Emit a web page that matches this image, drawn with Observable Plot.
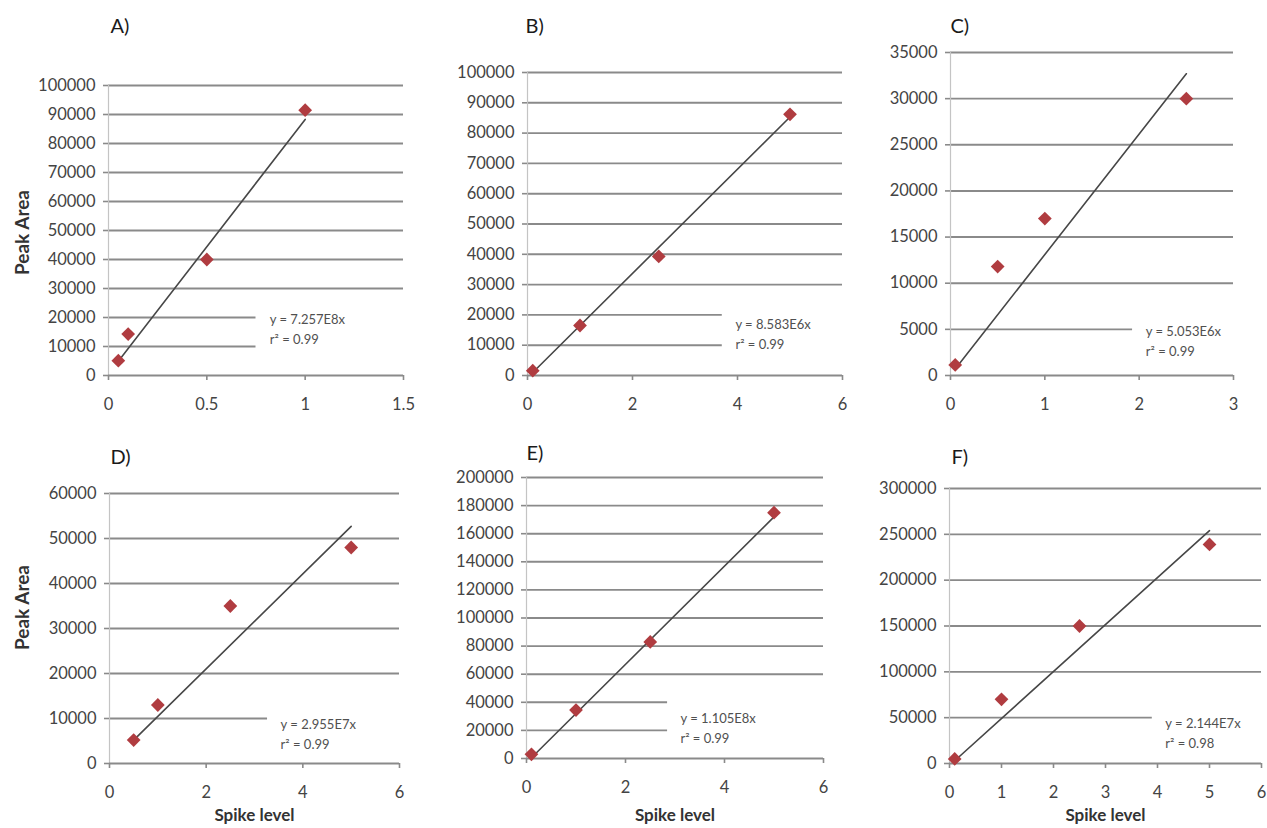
<!DOCTYPE html>
<html>
<head>
<meta charset="utf-8">
<script src="https://cdn.jsdelivr.net/npm/d3@7"></script>
<script src="https://cdn.jsdelivr.net/npm/@observablehq/plot@0.6"></script>
<style>
  html, body { margin: 0; padding: 0; background: #ffffff; overflow: hidden; }
  #wrap { position: relative; width: 1267px; height: 828px; }
  #wrap svg { position: absolute; left: 0; top: 0; max-width: none; }
</style>
</head>
<body>
<div id="wrap"></div>
<script>
// ---------- data ----------
const titles = ["A)", "B)", "C)", "D)", "E)", "F)"];
const yAxisTitle = "Peak Area";
const xAxisTitle = "Spike level";

// spike levels (x) and peak areas (y) per panel
const spikeA = [0.05, 0.1, 0.5, 1];
const areaA  = [5100, 14300, 40000, 91500];
const spikeB = [0.1, 1, 2.5, 5];
const areaB  = [1600, 16500, 39300, 86200];
const spikeC = [0.05, 0.5, 1, 2.5];
const areaC  = [1150, 11800, 17000, 30000];
const spikeD = [0.5, 1, 2.5, 5];
const areaD  = [5200, 13000, 35000, 48000];
const spikeE = [0.1, 1, 2.5, 5];
const areaE  = [3000, 34500, 83000, 175000];
const spikeF = [0.1, 1, 2.5, 5];
const areaF  = [5000, 70000, 150000, 239000];

// trendline end points
const fitXA = [0.05, 1];  const fitYA = [4900, 88300];
const fitXB = [0.1, 5];   const fitYB = [1000, 85300];
const fitXC = [0.05, 2.5]; const fitYC = [700, 32700];
const fitXD = [0.5, 5];   const fitYD = [5200, 52700];
const fitXE = [0.1, 5];   const fitYE = [500, 172000];
const fitXF = [0.1, 5];   const fitYF = [3000, 254000];

// equations
const eqA = ["y = 7.257E8x", "r² = 0.99"];
const eqB = ["y = 8.583E6x", "r² = 0.99"];
const eqC = ["y = 5.053E6x", "r² = 0.99"];
const eqD = ["y = 2.955E7x", "r² = 0.99"];
const eqE = ["y = 1.105E8x", "r² = 0.99"];
const eqF = ["y = 2.144E7x", "r² = 0.98"];

// tick values
const xTicksA = [0, 0.5, 1, 1.5];
const xTicksB = [0, 2, 4, 6];
const xTicksC = [0, 1, 2, 3];
const xTicksD = [0, 2, 4, 6];
const xTicksE = [0, 2, 4, 6];
const xTicksF = [0, 1, 2, 3, 4, 5, 6];
const yTicksA = [0, 10000, 20000, 30000, 40000, 50000, 60000, 70000, 80000, 90000, 100000];
const yTicksB = [0, 10000, 20000, 30000, 40000, 50000, 60000, 70000, 80000, 90000, 100000];
const yTicksC = [0, 5000, 10000, 15000, 20000, 25000, 30000, 35000];
const yTicksD = [0, 10000, 20000, 30000, 40000, 50000, 60000];
const yTicksE = [0, 20000, 40000, 60000, 80000, 100000, 120000, 140000, 160000, 180000, 200000];
const yTicksF = [0, 50000, 100000, 150000, 200000, 250000, 300000];

// gridlines interrupted by the equation label
const cutA = [10000, 20000];
const cutB = [10000, 20000];
const cutC = [5000];
const cutD = [10000];
const cutE = [20000, 40000];
const cutF = [50000];

// ---------- layout (pixels / label placement) ----------
const W = 1267, H = 828;
const layout = [
  {frame: [108, 85, 403, 375],  title: [110, 26],  eq: [0.82, 16500],  cutTo: 0.75, yTitle: [22, 232], xTitle: null},
  {frame: [527, 72, 842, 375],  title: [525, 26],  eq: [3.96, 14300],  cutTo: 3.71, yTitle: null, xTitle: null},
  {frame: [950, 52, 1233, 375], title: [950, 26],  eq: [2.07, 3900],   cutTo: 1.93, yTitle: null, xTitle: null},
  {frame: [109, 493, 399, 763], title: [110, 457], eq: [3.54, 6900],   cutTo: 3.27, yTitle: [22, 607], xTitle: 815},
  {frame: [526, 477, 823, 758], title: [526, 453], eq: [3.11, 22800],  cutTo: 2.85, yTitle: null, xTitle: 815},
  {frame: [949, 488, 1261, 763], title: [951, 457], eq: [4.15, 34900], cutTo: 3.90, yTitle: null, xTitle: 815}
];

const series = [
  [spikeA, areaA, fitXA, fitYA, eqA, xTicksA, yTicksA, cutA],
  [spikeB, areaB, fitXB, fitYB, eqB, xTicksB, yTicksB, cutB],
  [spikeC, areaC, fitXC, fitYC, eqC, xTicksC, yTicksC, cutC],
  [spikeD, areaD, fitXD, fitYD, eqD, xTicksD, yTicksD, cutD],
  [spikeE, areaE, fitXE, fitYE, eqE, xTicksE, yTicksE, cutE],
  [spikeF, areaF, fitXF, fitYF, eqF, xTicksF, yTicksF, cutF]
];

const FONT = "Lato, 'Open Sans', sans-serif";
const gridColor = "#8a8a8a";
const tickText = "#444444";
const pointColor = "#b03c40";

const wrap = document.getElementById("wrap");

series.forEach(([xs, ys, fx, fy, eq, xt, yt, cut], i) => {
  const L = layout[i];
  const [left, top, right, bottom] = L.frame;
  const pts = xs.map((x, k) => ({x, y: ys[k]}));
  const fit = fx.map((x, k) => ({x, y: fy[k]}));
  const xMax = xt[xt.length - 1];
  const yMax = yt[yt.length - 1];
  const fullGrid = yt.filter(t => t > 0 && !cut.includes(t));

  const marks = [
    // horizontal gridlines
    Plot.ruleY(fullGrid, {stroke: gridColor, strokeWidth: 1.9}),
    Plot.ruleY(cut, {x1: () => 0, x2: () => L.cutTo, stroke: gridColor, strokeWidth: 1.9}),
    // y axis line and x axis line
    Plot.ruleX([0], {stroke: "#c4c4c4", strokeWidth: 1.2}),
    Plot.ruleY([0], {stroke: gridColor, strokeWidth: 1.9}),
    Plot.axisY(yt, {tickSize: 5, tickPadding: 8, stroke: gridColor, strokeWidth: 1.6,
      tickFormat: d => String(d), fill: tickText, fontSize: 16.5, label: null}),
    Plot.axisX(xt, {tickSize: 5, tickPadding: 18, stroke: gridColor, strokeWidth: 1.6,
      tickFormat: d => String(d), fill: tickText, fontSize: 16.5, label: null}),
    // trendline
    Plot.line(fit, {x: "x", y: "y", stroke: "#474747", strokeWidth: 1.6}),
    // points
    Plot.dot(pts, {x: "x", y: "y", symbol: "diamond2", r: 6.2, fill: pointColor, stroke: "none"}),
    // equation
    Plot.text([eq.join("\n")], {x: () => L.eq[0], y: () => L.eq[1], textAnchor: "start",
      lineAnchor: "middle", lineHeight: 1.55, fontSize: 13, fill: "#505050"}),
    // panel letter
    Plot.text([titles[i]], {frameAnchor: "top-left", dx: L.title[0] - left, dy: L.title[1] - top,
      textAnchor: "start", lineAnchor: "middle", fontSize: 20, fill: "#1a1a1a"})
  ];
  if (L.yTitle) {
    marks.push(Plot.text([yAxisTitle], {frameAnchor: "left", rotate: -90, textAnchor: "middle",
      dx: L.yTitle[0] - left, dy: L.yTitle[1] - (top + bottom) / 2,
      fontSize: 19, fontWeight: "bold", fill: "#333333"}));
  }
  if (L.xTitle) {
    marks.push(Plot.text([xAxisTitle], {frameAnchor: "bottom", dy: L.xTitle - bottom,
      lineAnchor: "middle", fontSize: 17, fontWeight: "bold", fill: "#333333"}));
  }

  const chart = Plot.plot({
    width: W, height: H,
    marginLeft: left, marginTop: top, marginRight: W - right, marginBottom: H - bottom,
    x: {domain: [0, xMax]},
    y: {domain: [0, yMax]},
    style: {fontFamily: FONT, background: "transparent", overflow: "visible"},
    marks
  });
  wrap.appendChild(chart);
});
</script>
</body>
</html>
